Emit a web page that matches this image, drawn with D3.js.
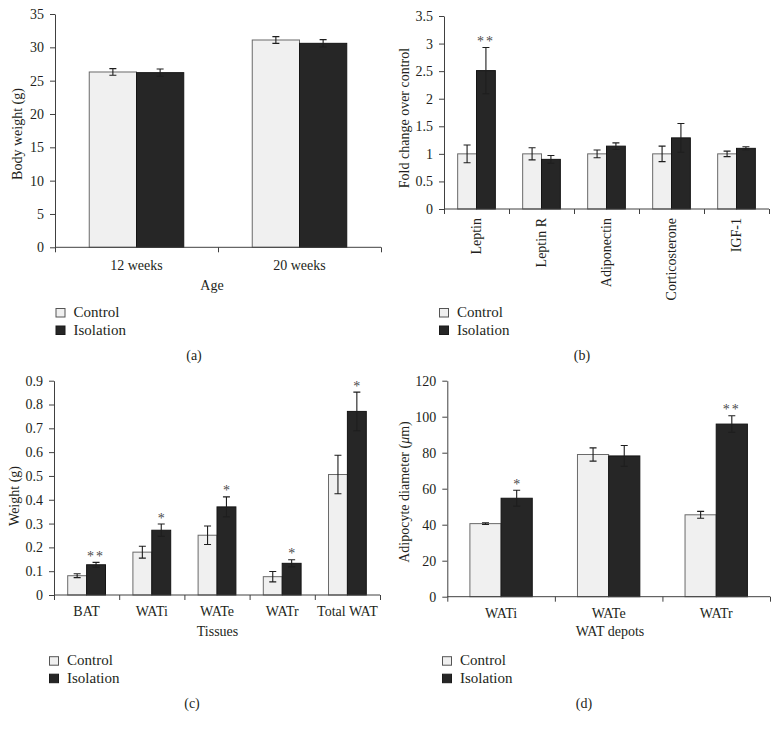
<!DOCTYPE html>
<html>
<head>
<meta charset="utf-8">
<script src="https://cdn.jsdelivr.net/npm/d3@7/dist/d3.min.js"></script>
<style>
  html, body { margin: 0; padding: 0; background: #ffffff; }
  svg { display: block; }
  svg text { font-family: "Liberation Serif", "Times New Roman", serif !important; fill: #231f20; }
</style>
</head>
<body>
<svg id="chart" width="782" height="729"></svg>
<script>
// ---------------- DATA ----------------
const seriesNames = ["Control", "Isolation"];

// Panel (a)
const aCategories = ["12 weeks", "20 weeks"];
const aControl = [26.3, 31.1];
const aControlErr = [0.5, 0.5];
const aIsolation = [26.2, 30.6];
const aIsolationErr = [0.55, 0.55];
const aSig = ["", ""];
const aTicks = [0, 5, 10, 15, 20, 25, 30, 35];
const aTickLabels = ["0", "5", "10", "15", "20", "25", "30", "35"];

// Panel (b)
const bCategories = ["Leptin", "Leptin R", "Adiponectin", "Corticosterone", "IGF-1"];
const bControl = [1.0, 1.0, 1.0, 1.0, 1.0];
const bControlErr = [0.16, 0.11, 0.07, 0.14, 0.05];
const bIsolation = [2.51, 0.90, 1.14, 1.29, 1.10];
const bIsolationErr = [0.42, 0.07, 0.06, 0.26, 0.03];
const bSig = ["**", "", "", "", ""];
const bTicks = [0, 0.5, 1, 1.5, 2, 2.5, 3, 3.5];
const bTickLabels = ["0", "0.5", "1", "1.5", "2", "2.5", "3", "3.5"];

// Panel (c)
const cCategories = ["BAT", "WATi", "WATe", "WATr", "Total WAT"];
const cControl = [0.081, 0.180, 0.251, 0.077, 0.506];
const cControlErr = [0.008, 0.025, 0.039, 0.022, 0.081];
const cIsolation = [0.127, 0.272, 0.370, 0.133, 0.771];
const cIsolationErr = [0.010, 0.026, 0.042, 0.015, 0.081];
const cSig = ["**", "*", "*", "*", "*"];
const cTicks = [0, 0.1, 0.2, 0.3, 0.4, 0.5, 0.6, 0.7, 0.8, 0.9];
const cTickLabels = ["0", "0.1", "0.2", "0.3", "0.4", "0.5", "0.6", "0.7", "0.8", "0.9"];

// Panel (d)
const dCategories = ["WATi", "WATe", "WATr"];
const dControl = [40.6, 79.0, 45.5];
const dControlErr = [0.5, 3.7, 1.9];
const dIsolation = [54.7, 78.2, 95.9];
const dIsolationErr = [4.4, 5.8, 4.6];
const dSig = ["*", "", "**"];
const dTicks = [0, 20, 40, 60, 80, 100, 120];
const dTickLabels = ["0", "20", "40", "60", "80", "100", "120"];

// ---------------- DRAW ----------------
const svg = d3.select("#chart");
const COL_CTRL = "#f0f0f0", COL_ISO = "#262626";
const AXIS_COL = "#404040";
const FONT = "Liberation Serif, Times New Roman, serif";

function drawPanel(p) {
  const g = svg.append("g").attr("font-family", FONT);
  const x = d3.scaleBand().domain(p.categories).range([p.x0, p.x1]).padding(0);
  const xs = d3.scaleBand().domain(seriesNames).range([0, x.bandwidth()])
    .paddingInner(0).paddingOuter(0.725);
  const y = d3.scaleLinear().domain([0, p.ticks[p.ticks.length - 1]]).range([p.yBottom, p.yTop]);

  const rows = p.categories.map((c, i) => ({
    cat: c,
    vals: [
      { s: "Control", v: p.control[i], e: p.controlErr[i] },
      { s: "Isolation", v: p.isolation[i], e: p.isolationErr[i] }
    ],
    sig: p.sig[i]
  }));

  // bars
  const grp = g.selectAll("g.cat").data(rows).join("g")
    .attr("transform", d => `translate(${x(d.cat)},0)`);
  grp.selectAll("rect").data(d => d.vals).join("rect")
    .attr("x", d => xs(d.s))
    .attr("y", d => y(d.v))
    .attr("width", xs.bandwidth())
    .attr("height", d => y(0) - y(d.v))
    .attr("fill", d => d.s === "Control" ? COL_CTRL : COL_ISO)
    .attr("stroke", d => d.s === "Control" ? "#6a6a6a" : "#141414")
    .attr("stroke-width", 1);

  // error bars
  const cap = 3.5;
  grp.selectAll("path.err").data(d => d.vals).join("path")
    .attr("class", "err")
    .attr("d", d => {
      const cx = xs(d.s) + xs.bandwidth() / 2;
      const t = y(d.v + d.e), b = y(d.v - d.e);
      return `M${cx},${t}V${b}M${cx - cap},${t}H${cx + cap}M${cx - cap},${b}H${cx + cap}`;
    })
    .attr("stroke", "#1e1e1e").attr("stroke-width", 1.1).attr("fill", "none");

  // significance
  grp.filter(d => d.sig).append("text")
    .attr("x", xs("Isolation") + xs.bandwidth() / 2)
    .attr("y", d => y(d.vals[1].v + d.vals[1].e) - 1.5)
    .attr("text-anchor", "middle")
    .attr("font-size", 14)
    .attr("letter-spacing", d => d.sig.length > 1 ? 2 : 0)
    .style("fill", "#4a4a4a")
    .text(d => d.sig);

  // y axis
  const yAxis = g.append("g").attr("transform", `translate(${p.x0},0)`)
    .call(d3.axisLeft(y).tickValues(p.ticks).tickSize(5).tickPadding(6).tickSizeOuter(0)
      .tickFormat((d, i) => p.tickLabels[i]));
  yAxis.attr("font-family", FONT);
  yAxis.select(".domain").attr("stroke", AXIS_COL);
  yAxis.selectAll(".tick line").attr("stroke", AXIS_COL);
  yAxis.selectAll(".tick text").attr("font-size", 14).attr("fill", "#231f20");

  // x axis (boundary ticks)
  const boundaries = p.categories.map(c => x(c)).concat([p.x1]);
  const xb = d3.scaleLinear().domain([p.x0, p.x1]).range([p.x0, p.x1]);
  const xAxis = g.append("g").attr("transform", `translate(0,${p.yBottom})`)
    .call(d3.axisBottom(xb).tickValues(boundaries).tickSize(5).tickFormat(""));
  xAxis.select(".domain").attr("stroke", AXIS_COL).attr("d", `M${p.x0},0H${p.x1}`);
  xAxis.selectAll(".tick line").attr("stroke", AXIS_COL);

  // category labels
  if (p.rotateLabels) {
    g.selectAll("text.cat").data(p.categories).join("text")
      .attr("class", "cat")
      .attr("transform", c => `translate(${x(c) + x.bandwidth() / 2 + 4.5},${p.yBottom + 9}) rotate(-90)`)
      .attr("text-anchor", "end")
      .attr("font-size", 14)
      .text(c => c);
  } else {
    g.selectAll("text.cat").data(p.categories).join("text")
      .attr("class", "cat")
      .attr("x", c => x(c) + x.bandwidth() / 2)
      .attr("y", p.yBottom + p.catDy)
      .attr("text-anchor", "middle")
      .attr("font-size", 14)
      .text(c => c);
  }

  // x title
  if (p.xTitle) {
    g.append("text").attr("x", p.xTitleX).attr("y", p.xTitleY)
      .attr("text-anchor", "middle").attr("font-size", 14).text(p.xTitle);
  }
  // y title
  const yt = g.append("text")
    .attr("transform", `translate(${p.yTitleX},${p.yTitleY}) rotate(-90)`)
    .attr("text-anchor", "middle").attr("font-size", 14);
  p.yTitle.forEach(part => {
    yt.append("tspan").attr("font-style", part.italic ? "italic" : null).text(part.t);
  });

  // legend
  const lg = g.append("g");
  seriesNames.forEach((s, i) => {
    lg.append("rect")
      .attr("x", p.legX).attr("y", p.legY + i * 17.5)
      .attr("width", 9).attr("height", 8.5)
      .attr("fill", s === "Control" ? COL_CTRL : COL_ISO)
      .attr("stroke", s === "Control" ? "#555" : "#1a1a1a").attr("stroke-width", 1);
    lg.append("text")
      .attr("x", p.legX + 17.5).attr("y", p.legY + 8.5 + i * 17.5)
      .attr("font-size", 15).text(s);
  });

  // panel label
  g.append("text").attr("x", p.labX).attr("y", p.labY)
    .attr("text-anchor", "middle").attr("font-size", 14).text(p.label);
}

drawPanel({
  categories: aCategories, control: aControl, controlErr: aControlErr,
  isolation: aIsolation, isolationErr: aIsolationErr, sig: aSig, ticks: aTicks, tickLabels: aTickLabels,
  x0: 55, x1: 381, yTop: 14, yBottom: 247.3, catDy: 22.5,
  xTitle: "Age", xTitleX: 212, xTitleY: 289.5,
  yTitle: [{ t: "Body weight (g)" }], yTitleX: 22, yTitleY: 134,
  legX: 56, legY: 308.5, label: "(a)", labX: 194, labY: 359.5
});

drawPanel({
  categories: bCategories, control: bControl, controlErr: bControlErr,
  isolation: bIsolation, isolationErr: bIsolationErr, sig: bSig, ticks: bTicks, tickLabels: bTickLabels,
  x0: 444, x1: 769, yTop: 16, yBottom: 209, rotateLabels: true,
  xTitle: null,
  yTitle: [{ t: "Fold change over control" }], yTitleX: 409, yTitleY: 118,
  legX: 439.5, legY: 308.5, label: "(b)", labX: 582, labY: 359.5
});

drawPanel({
  categories: cCategories, control: cControl, controlErr: cControlErr,
  isolation: cIsolation, isolationErr: cIsolationErr, sig: cSig, ticks: cTicks, tickLabels: cTickLabels,
  x0: 54, x1: 380, yTop: 380.7, yBottom: 595, catDy: 20.5,
  xTitle: "Tissues", xTitleX: 217.5, xTitleY: 636,
  yTitle: [{ t: "Weight (g)" }], yTitleX: 19, yTitleY: 496,
  legX: 49.5, legY: 656.7, label: "(c)", labX: 192, labY: 707.5
});

drawPanel({
  categories: dCategories, control: dControl, controlErr: dControlErr,
  isolation: dIsolation, isolationErr: dIsolationErr, sig: dSig, ticks: dTicks, tickLabels: dTickLabels,
  x0: 447.3, x1: 770, yTop: 380.7, yBottom: 596.7, catDy: 21,
  xTitle: "WAT depots", xTitleX: 610, xTitleY: 636,
  yTitle: [{ t: "Adipocyte diameter (" }, { t: "μ", italic: true }, { t: "m)" }], yTitleX: 409, yTitleY: 492,
  legX: 442.5, legY: 656.7, label: "(d)", labX: 584, labY: 707.5
});
</script>
</body>
</html>
